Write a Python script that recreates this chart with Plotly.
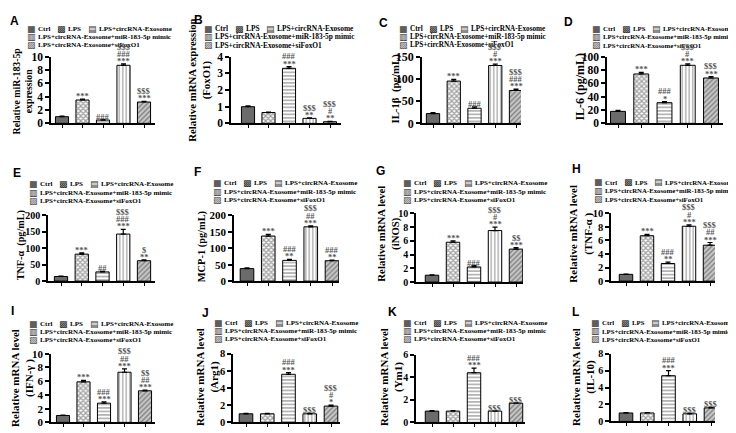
import plotly.graph_objects as go

# ---------------- data ----------------
groups = ["Ctrl", "LPS", "LPS+circRNA-Exosome",
          "LPS+circRNA-Exosome+miR-183-5p mimic", "LPS+circRNA-Exosome+siFoxO1"]

mir183_mean = [1.0, 3.5, 0.5, 8.7, 3.2]
mir183_err = [0.08, 0.12, 0.08, 0.2, 0.1]
mir183_sig = [[], ["***"], ["###"], ["***", "###", "$$$"], ["***", "$$$"]]
mir183_ticks = [0, 2, 4, 6, 8, 10]
mir183_title = "Relative miR-183-5p<br>expression"

foxo1_mean = [1.0, 0.65, 3.3, 0.3, 0.1]
foxo1_err = [0.05, 0.03, 0.1, 0.03, 0.02]
foxo1_sig = [[], [], ["***", "###"], ["**", "$$$"], ["**", "#", "$$$"]]
foxo1_ticks = [0, 1, 2, 3, 4]
foxo1_title = "Relative mRNA expression<br>(FoxO1)"

il1b_mean = [22, 95, 34, 130, 74]
il1b_err = [2, 4, 3, 3, 3]
il1b_sig = [[], ["***"], ["###"], ["***", "#", "$$$"], ["***", "###", "$$$"]]
il1b_ticks = [0, 50, 100, 150]
il1b_title = "IL-1β\u00a0\u00a0(pg/mL)"

il6_mean = [18, 74, 31, 87, 68]
il6_err = [1.5, 2.5, 1.5, 2, 2]
il6_sig = [[], ["***"], ["*", "###"], ["***", "#", "$$$"], ["***", "$$$"]]
il6_ticks = [0, 20, 40, 60, 80, 100]
il6_title = "IL-6 (pg/mL)"

tnfa_mean = [14, 82, 28, 143, 62]
tnfa_err = [1, 4, 2, 14, 3]
tnfa_sig = [[], ["***"], ["##"], ["***", "###", "$$$"], ["**", "$"]]
tnfa_ticks = [0, 50, 100, 150, 200]
tnfa_title = "TNF-α\u00a0\u00a0(pg/mL)"

mcp1_mean = [38, 137, 63, 165, 62]
mcp1_err = [2, 5, 3, 3, 2]
mcp1_sig = [[], ["***"], ["**", "###"], ["***", "##", "$$$"], ["**", "###"]]
mcp1_ticks = [0, 50, 100, 150, 200]
mcp1_title = "MCP-1 (pg/mL)"

inos_mean = [1.0, 5.8, 2.2, 7.5, 4.8]
inos_err = [0.05, 0.2, 0.2, 0.5, 0.2]
inos_sig = [[], ["***"], ["###"], ["***", "#", "$$$"], ["***", "$$"]]
inos_ticks = [0, 2, 4, 6, 8, 10]
inos_title = "Relative mRNA level<br>(iNOS)"

tnfa_mrna_mean = [1.0, 6.7, 2.6, 8.1, 5.3]
tnfa_mrna_err = [0.05, 0.2, 0.2, 0.2, 0.4]
tnfa_mrna_sig = [[], ["***"], ["**", "###"], ["***", "#", "$$$"], ["***", "##", "$$$"]]
tnfa_mrna_ticks = [0, 2, 4, 6, 8, 10]
tnfa_mrna_title = "Relative mRNA level<br>(TNF-α )"

ifng_mean = [1.0, 5.9, 2.8, 7.3, 4.6]
ifng_err = [0.05, 0.2, 0.2, 0.5, 0.1]
ifng_sig = [[], ["***"], ["***", "###"], ["***", "##", "$$$"], ["***", "##", "$$"]]
ifng_ticks = [0, 2, 4, 6, 8, 10]
ifng_title = "Relative mRNA level<br>(IFN-γ )"

arg1_mean = [1.0, 1.0, 5.6, 1.0, 1.9]
arg1_err = [0.05, 0.05, 0.2, 0.05, 0.1]
arg1_sig = [[], [], ["***", "###"], ["$$$"], ["*", "#", "$$$"]]
arg1_ticks = [0, 2, 4, 6, 8]
arg1_title = "Relative mRNA level<br>(Arg1)"

ym1_mean = [1.0, 1.0, 4.4, 1.0, 1.7]
ym1_err = [0.05, 0.05, 0.4, 0.05, 0.05]
ym1_sig = [[], [], ["***", "###"], ["$$$"], ["$$$"]]
ym1_ticks = [0, 2, 4, 6]
ym1_title = "Relative mRNA level<br>(Ym1)"

il10_mean = [1.0, 1.0, 5.4, 0.9, 1.6]
il10_err = [0.05, 0.05, 0.6, 0.05, 0.05]
il10_sig = [[], [], ["***", "###"], ["$$$"], ["$$$"]]
il10_ticks = [0, 2, 4, 6, 8]
il10_title = "Relative mRNA level<br>(IL-10)"

panel_labels = ["A", "B", "C", "D", "E", "F", "G", "H", "I", "J", "K", "L"]

datasets = [
    (mir183_mean, mir183_err, mir183_sig, mir183_ticks, mir183_title),
    (foxo1_mean, foxo1_err, foxo1_sig, foxo1_ticks, foxo1_title),
    (il1b_mean, il1b_err, il1b_sig, il1b_ticks, il1b_title),
    (il6_mean, il6_err, il6_sig, il6_ticks, il6_title),
    (tnfa_mean, tnfa_err, tnfa_sig, tnfa_ticks, tnfa_title),
    (mcp1_mean, mcp1_err, mcp1_sig, mcp1_ticks, mcp1_title),
    (inos_mean, inos_err, inos_sig, inos_ticks, inos_title),
    (tnfa_mrna_mean, tnfa_mrna_err, tnfa_mrna_sig, tnfa_mrna_ticks, tnfa_mrna_title),
    (ifng_mean, ifng_err, ifng_sig, ifng_ticks, ifng_title),
    (arg1_mean, arg1_err, arg1_sig, arg1_ticks, arg1_title),
    (ym1_mean, ym1_err, ym1_sig, ym1_ticks, ym1_title),
    (il10_mean, il10_err, il10_sig, il10_ticks, il10_title),
]

# ---------------- layout geometry (pixels) ----------------
# lx, ly, axL, axR, yTop, yBot, c0, c4, tickfs, tx, ty, titlefs, legx, legy, legfs
geom = [
    (6, 6, 43, 147, 43, 112, 54, 136, 11.5, 15, 79, 9.8, 18, 14, 7.05),
    (190, 5, 223, 333, 43, 112, 240, 322, 11.5, 192, 68, 10.8, 195, 14, 7.4),
    (375, 8, 414, 513, 43, 112, 425, 508, 12, 388, 76, 10.8, 390, 14, 7.2),
    (560, 7, 599, 715, 43, 112, 610, 703, 11.5, 572, 74, 12, 583, 14, 6.8),
    (9, 163, 40, 147, 207, 275, 53, 136, 10, 13, 238, 10.2, 20, 175, 7.0),
    (189, 162, 226, 331, 207, 275, 239, 324, 11, 194, 240, 10.4, 204, 174, 7.0),
    (373, 161, 408, 515, 205, 276, 424, 508, 10, 381, 226, 10.8, 394, 174, 7.0),
    (568, 159, 603, 707, 205, 275, 618, 702, 10.5, 573, 226, 11, 585, 173, 6.8),
    (4, 306, 43, 147, 350, 421, 55, 137, 11, 15, 375, 11, 20, 319, 7.0),
    (197, 308, 225, 332, 350, 421, 238, 323, 10.5, 200, 374, 11, 205, 318, 7.0),
    (384, 307, 408, 517, 351, 421, 424, 508, 10, 384, 374, 11, 394, 318, 7.0),
    (567, 307, 603, 707, 350, 420, 618, 703, 10, 576, 374, 11, 582, 318, 6.8),
]

W, H = 736, 433
SERIF = "Liberation Serif, Times New Roman, serif"
SANS = "Liberation Sans, Arial, sans-serif"
SYM = "DejaVu Sans"

pat_shape = ["", "x", "-", "|", "/"]
bar_bg = ["#6b6b6b", "#ffffff", "#ffffff", "#ffffff", "#c6c6c6"]
bar_fg = ["#6b6b6b", "#1a1a1a", "#5a5a5a", "#1a1a1a", "#3c3c3c"]
pat_solid = [0.4, 0.6, 0.4, 0.35, 0.4]
sw_chars = ["■", "▩", "▤", "▥", "▨"]
sw_colors = ["#5e5e5e", "#222222", "#333333", "#222222", "#444444"]

fig = go.Figure()
layout = {}
ann = []


def fx(x):
    return x / W


def fy(y):
    return 1 - y / H


for i, (g, d) in enumerate(zip(geom, datasets)):
    lx, ly, axL, axR, yT, yB, c0, c4, tfs, tx, ty, titfs, legx, legy, legfs = g
    mean, err, sig, ticks, title = d
    n = i + 1
    sfx = "" if n == 1 else str(n)
    fig.add_trace(go.Bar(
        x=groups, y=mean, xaxis="x" + sfx, yaxis="y" + sfx, width=0.64,
        marker=dict(color=bar_bg, line=dict(color="black", width=1),
                    pattern=dict(shape=pat_shape, fgcolor=bar_fg, bgcolor=bar_bg,
                                 size=3.5, solidity=pat_solid)),
        error_y=dict(type="data", array=err, symmetric=False, arrayminus=[0] * 5,
                     color="black", thickness=1.2, width=2.5),
        showlegend=False, hoverinfo="skip"))
    s = (c4 - c0) / 4.0
    layout["xaxis" + sfx] = dict(
        domain=[fx(axL), fx(axR)], range=[(axL - c0) / s, (axR - c0) / s],
        anchor="y" + sfx, type="category", showline=True, linecolor="black",
        linewidth=1.5, ticks="outside", ticklen=3, tickwidth=1.2, tickcolor="black",
        showticklabels=False, showgrid=False, zeroline=False)
    layout["yaxis" + sfx] = dict(
        domain=[fy(yB), fy(yT)], range=[0, ticks[-1]], anchor="x" + sfx,
        showline=True, linecolor="black", linewidth=1.5, ticks="outside",
        ticklen=4, tickwidth=1.5, tickcolor="black", tickvals=ticks,
        ticktext=[str(t) for t in ticks],
        tickfont=dict(family=SERIF, size=tfs, color="black", weight="bold"),
        showgrid=False, zeroline=False)
    # panel label
    ann.append(dict(x=fx(lx), y=fy(ly), xref="paper", yref="paper", text="<b>%s</b>" % panel_labels[i],
                    showarrow=False, xanchor="center", yanchor="middle", borderpad=0,
                    font=dict(family=SANS, size=12, color="black")))
    # y title
    ann.append(dict(x=fx(tx), y=fy(ty), xref="paper", yref="paper", text="<b>%s</b>" % title,
                    showarrow=False, textangle=-90, xanchor="center", yanchor="middle",
                    borderpad=0, font=dict(family=SERIF, size=titfs, color="black")))
    # legend
    t0 = 11
    sw1 = t0 + 1.93 * legfs + 5.5
    t1 = sw1 + 11
    sw2 = t1 + 2.0 * legfs + 5.5
    t2 = sw2 + 11
    rowpitch = 8.6
    items = [(0, t0, 0), (sw1, t1, 0), (sw2, t2, 0), (0, t0, 1), (0, t0, 2)]
    for k, (sx, tx_, row) in enumerate(items):
        yy = legy + row * rowpitch
        ann.append(dict(x=fx(legx + sx), y=fy(yy), xref="paper", yref="paper",
                        text=sw_chars[k], showarrow=False, xanchor="left", yanchor="middle",
                        borderpad=0, font=dict(family=SYM, size=9, color=sw_colors[k])))
        ann.append(dict(x=fx(legx + tx_), y=fy(yy), xref="paper", yref="paper",
                        text="<b>%s</b>" % groups[k], showarrow=False, xanchor="left",
                        yanchor="middle", borderpad=0,
                        font=dict(family=SERIF, size=legfs, color="black")))
    # significance marks
    for k in range(5):
        for j, mark in enumerate(sig[k]):
            ann.append(dict(x=groups[k], y=mean[k] + err[k], xref="x" + sfx, yref="y" + sfx,
                            text="<b>%s</b>" % mark, showarrow=False, xanchor="center",
                            yanchor="bottom", borderpad=0, yshift=-3 + 7.2 * j,
                            font=dict(family=SERIF, size=8.5, color="#555555")))

fig.update_layout(
    width=W, height=H, margin=dict(l=0, r=0, t=0, b=0),
    paper_bgcolor="white", plot_bgcolor="white", showlegend=False,
    bargap=0.3, annotations=ann, **layout)

fig.write_html("out.html")
